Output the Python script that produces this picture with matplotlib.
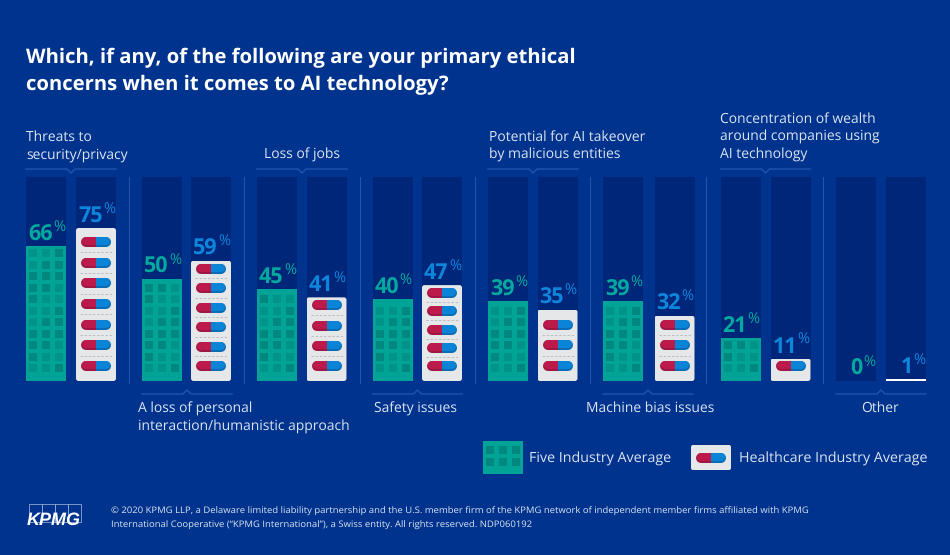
import matplotlib
matplotlib.use("Agg")
import matplotlib.pyplot as plt
from matplotlib.patches import FancyBboxPatch, Rectangle

plt.rcParams['font.family'] = ['Open Sans', 'DejaVu Sans']
plt.rcParams['text.hinting'] = 'none'

five_avg = [66, 50, 45, 40, 39, 39, 21, 0]
health_avg = [75, 59, 41, 47, 35, 32, 11, 1]
title = "Which, if any, of the following are your primary ethical\nconcerns when it comes to AI technology?"
top_labels = {0: "Threats to\nsecurity/privacy", 2: "Loss of jobs",
              4: "Potential for AI takeover\nby malicious entities",
              6: "Concentration of wealth\naround companies using\nAI technology"}
bottom_labels = {1: "A loss of personal\ninteraction/humanistic approach", 3: "Safety issues",
                 5: "Machine bias issues", 7: "Other"}
legend_names = ["Five Industry Average", "Healthcare Industry Average"]
footer = ("\u00a9 2020 KPMG LLP, a Delaware limited liability partnership and the U.S. member firm of the KPMG network of independent member firms affiliated with KPMG\n"
          "International Cooperative (\u201cKPMG International\u201d), a Swiss entity. All rights reserved. NDP060192")

BG = '#00338D'; TRACK = '#00267A'; TEAL = '#00A396'; WIN = '#00877F'; WIN2 = '#009389'
CARD = '#E6E7E9'; RED = '#BD1A4C'; BLUE = '#0A84D6'; TXT = '#DDE4F2'; LINE = '#1F55AE'
VTEAL = '#00A99D'; VBLUE = '#0C86DC'

fig = plt.figure(figsize=(9.5, 5.55), dpi=100, facecolor=BG)
PX = 2.04  # pixels per percent
ax = fig.add_axes([0, 0, 1, 1], facecolor='none')
ax.set_xlim(0, 950)
ax.set_ylim((381 - 555) / PX, 381 / PX)
ax.axis('off')
ov = fig.add_axes([0, 0, 1, 1], facecolor='none')
ov.set_xlim(0, 950); ov.set_ylim(555, 0); ov.axis('off')

W = 40
x5 = [26, 142, 257, 372.5, 488, 603, 720.5, 836]
xh = [76, 191, 306.5, 422, 537.5, 654.5, 770.5, 886]
seps = [129, 244, 360, 475, 590, 706, 823]
ax.bar(x5, [100] * 8, width=W, align='edge', color=TRACK, linewidth=0)
ax.bar(xh, [100] * 8, width=W, align='edge', color=TRACK, linewidth=0)
ax.bar(x5, five_avg, width=W, align='edge', color=TEAL, linewidth=0)
cards = ax.bar(xh, health_avg, width=W, align='edge',
               color=[CARD if v > 1 else 'white' for v in health_avg], linewidth=0)
for b, x, v in zip(cards, xh, health_avg):
    if v > 1:
        clip = FancyBboxPatch((x, 381 - v * PX), W, v * PX, boxstyle="round,pad=0,rounding_size=2.5",
                              transform=ov.transData)
        b.set_clip_path(clip)


def building(x0, bottom, rows, size=8.0, pitch=11.5, gap=13.1, start=3.0):
    for r in range(rows):
        for c in range(3):
            col = WIN if (r * 2 + c * 3) % 5 not in (0, 3) else WIN2
            ov.add_patch(Rectangle((x0 + start + c * gap, bottom - 9 - size - r * pitch), size, size,
                                   color=col, lw=0, zorder=3))


def pill(cx, cy, w=30.0, h=10.0):
    lw_pt = h * 0.72
    half = (w - h) / 2
    for col, dark, x0 in ((RED, '#9E1644', cx - w / 2), (BLUE, '#0A6CB5', cx)):
        clip = Rectangle((x0, cy - h), w / 2, 2 * h, transform=ov.transData)
        l1, = ov.plot([cx - half, cx + half], [cy, cy], color=dark, lw=lw_pt,
                      solid_capstyle='round', zorder=4)
        l2, = ov.plot([cx - half, cx + half], [cy - 1.0, cy - 1.0], color=col, lw=(h - 2) * 0.72,
                      solid_capstyle='round', zorder=4)
        l1.set_clip_path(clip); l2.set_clip_path(clip)


for i in range(8):
    h5 = five_avg[i] * PX
    rows = max(int((h5 - 5.5) // 11.5), 0)
    building(x5[i], 381, rows)
    hh = health_avg[i] * PX
    n = round(hh / 20.7) if hh > 10 else 0
    if n:
        spacing = 20.7 if n == 1 else min(20.7, (366 - (381 - hh + 8)) / (n - 1))
        for r in range(n):
            cy = 366 - r * spacing
            pill(xh[i] + 20, cy)
            if r < n - 1:
                ov.plot([xh[i] + 4, xh[i] + 36], [cy - spacing / 2] * 2, color='#B5B7BC', lw=0.6,
                        ls=(0, (3, 2)), zorder=3)
    for xs, v, col in ((x5[i], five_avg[i], VTEAL), (xh[i], health_avg[i], VBLUE)):
        ytop = 381 - v * PX
        ax.text(xs + 26.5, (381 - (ytop - 6)) / PX, f"{v}", ha='right', va='baseline', color=col,
                fontsize=15.5, fontweight='bold', zorder=5)
        ax.text(xs + 27, (381 - (ytop - 14.5)) / PX, "%", ha='left', va='baseline', color=col,
                fontsize=10.5, zorder=5)

for xsep in seps:
    ov.plot([xsep, xsep], [177, 383], color=LINE, lw=0.8, zorder=1)


def bracket(x0, y, up=True):
    d = -4 if not up else 4
    ov.plot([x0, x0 + 41, x0 + 45, x0 + 49, x0 + 90], [y, y, y + d, y, y], color=LINE, lw=1, zorder=2)


for i in top_labels:
    bracket(x5[i], 169)
for i in bottom_labels:
    bracket(x5[i], 394, up=False)

for k, ln in enumerate(title.split("\n")):
    ov.text(26, 58 + k * 27, ln, color='white', fontsize=14.6, fontweight='bold', va='center', ha='left')

LS = 18.0
top_pos = {0: (26, 'left'), 2: (302, 'center'), 4: (489, 'left'), 6: (720, 'left')}
for i, s in top_labels.items():
    lines = s.split("\n")
    xp, ha = top_pos[i]
    for k, ln in enumerate(lines):
        ov.text(xp, 155 - (len(lines) - 1 - k) * LS, ln, color=TXT, fontsize=10.0, ha=ha, va='center')
bot_pos = {1: (138, 'left'), 3: (415, 'center'), 5: (650, 'center'), 7: (880, 'center')}
for i, s in bottom_labels.items():
    xp, ha = bot_pos[i]
    for k, ln in enumerate(s.split("\n")):
        ov.text(xp, 408.5 + k * LS, ln, color=TXT, fontsize=10.0, ha=ha, va='center')

ov.add_patch(Rectangle((483, 441), 40, 33, color=TEAL, lw=0, zorder=2))
for r in range(2):
    for c in range(3):
        ov.add_patch(Rectangle((486 + c * 13.1, 446 + r * 11.5), 8, 8, color=WIN, lw=0, zorder=3))
ov.text(529, 458.5, legend_names[0], color=TXT, fontsize=10.3, ha='left', va='center')
ov.add_patch(FancyBboxPatch((693, 447), 36, 21, boxstyle="round,pad=2,rounding_size=2", fc=CARD, ec='none', zorder=2))
pill(711, 457.5)
ov.text(739, 458.5, legend_names[1], color=TXT, fontsize=10.3, ha='left', va='center')

for k, ln in enumerate(footer.split("\n")):
    ov.text(111, 511 + k * 14, ln, color=TXT, fontsize=6.8, ha='left', va='center')

for c in range(4):
    ov.add_patch(Rectangle((29 + c * 13, 504), 13, 18, fc='none', ec='#8FA6D4', lw=0.6, zorder=2))
ov.text(26.5, 520, "KPMG", color='white', fontsize=13, fontweight='bold', style='italic',
        family=['Liberation Sans', 'DejaVu Sans'], ha='left', va='center', zorder=3)

fig.savefig("out.png", dpi=100, facecolor=BG)
